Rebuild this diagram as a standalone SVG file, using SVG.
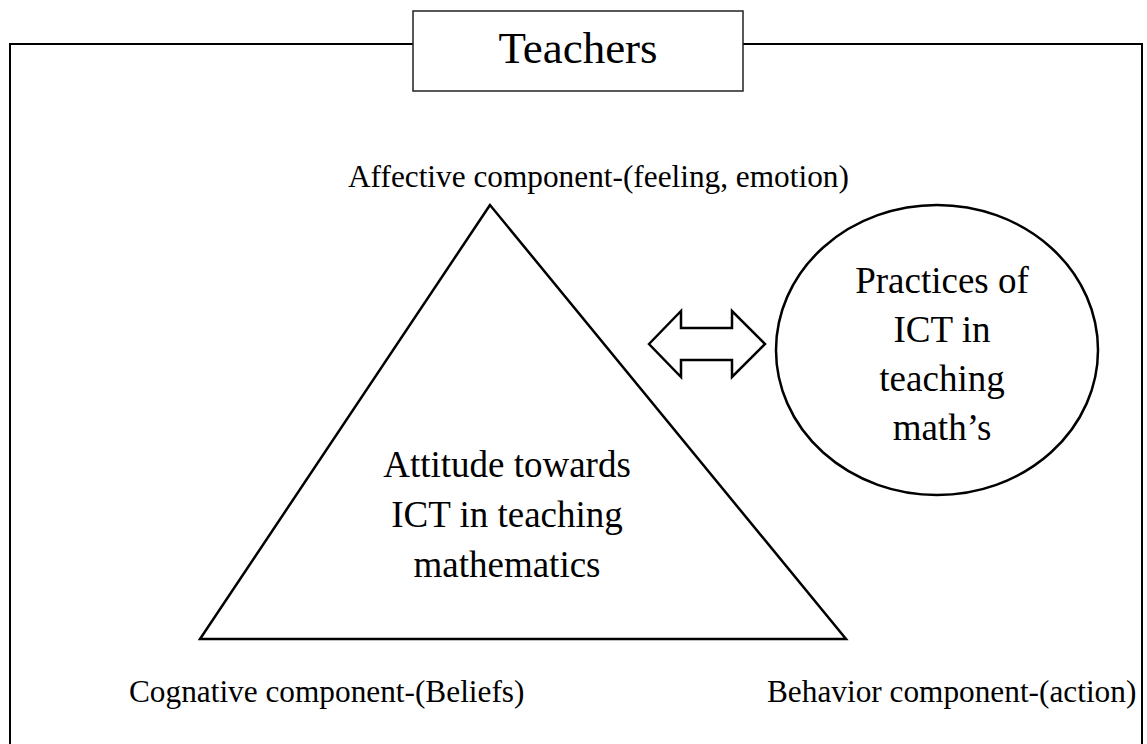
<svg xmlns="http://www.w3.org/2000/svg" width="1147" height="744" viewBox="0 0 1147 744">
  <style>
    .line { fill: none; stroke: #000; stroke-width: 2; }
    .shape { fill: #fff; stroke: #000; stroke-width: 2.5; stroke-linejoin: miter; }
    .title { font-family: "Liberation Serif", "Times New Roman", serif; font-size: 45px; fill: #000; text-anchor: middle; }
    .body { font-family: "Liberation Serif", "Times New Roman", serif; font-size: 37px; fill: #000; text-anchor: middle; }
    .label { font-family: "Liberation Serif", "Times New Roman", serif; font-size: 31.3px; fill: #000; }
  </style>

  <rect width="1147" height="744" fill="#fff"/>

  <!-- outer frame, open at the bottom edge of the page -->
  <g id="frame">
    <path class="line" d="M10,760 L10,44 L1142,44 L1142,760"/>
  </g>

  <!-- title box sitting on the frame -->
  <g id="teachers">
    <rect x="413" y="11" width="330" height="80" fill="#fff" stroke="#222" stroke-width="1.5"/>
    <text class="title" x="578" y="63">Teachers</text>
  </g>

  <!-- attitude triangle -->
  <g id="attitude">
    <polygon class="shape" points="490,205 200,639 846,639"/>
    <text class="body" x="507" y="477">Attitude towards</text>
    <text class="body" x="507" y="527">ICT in teaching</text>
    <text class="body" x="507" y="577">mathematics</text>
  </g>

  <!-- vertex labels -->
  <g id="affective">
    <text class="label" x="348" y="187">Affective component-(feeling, emotion)</text>
  </g>
  <g id="cognitive">
    <text class="label" x="129" y="702">Cognative component-(Beliefs)</text>
  </g>
  <g id="behavior">
    <text class="label" x="767" y="702">Behavior component-(action)</text>
  </g>

  <!-- practices ellipse -->
  <g id="practices">
    <ellipse class="shape" cx="937" cy="350" rx="161" ry="145"/>
    <text class="body" x="942" y="293">Practices of</text>
    <text class="body" x="942" y="342">ICT in</text>
    <text class="body" x="942" y="391">teaching</text>
    <text class="body" x="942" y="440">math’s</text>
  </g>

  <!-- two-way relation between attitude and practices -->
  <g id="connectors">
    <polygon class="shape" points="649,344 681,311 681,328 732,328 732,311 765,344 732,377 732,360 681,360 681,377"/>
  </g>
</svg>
